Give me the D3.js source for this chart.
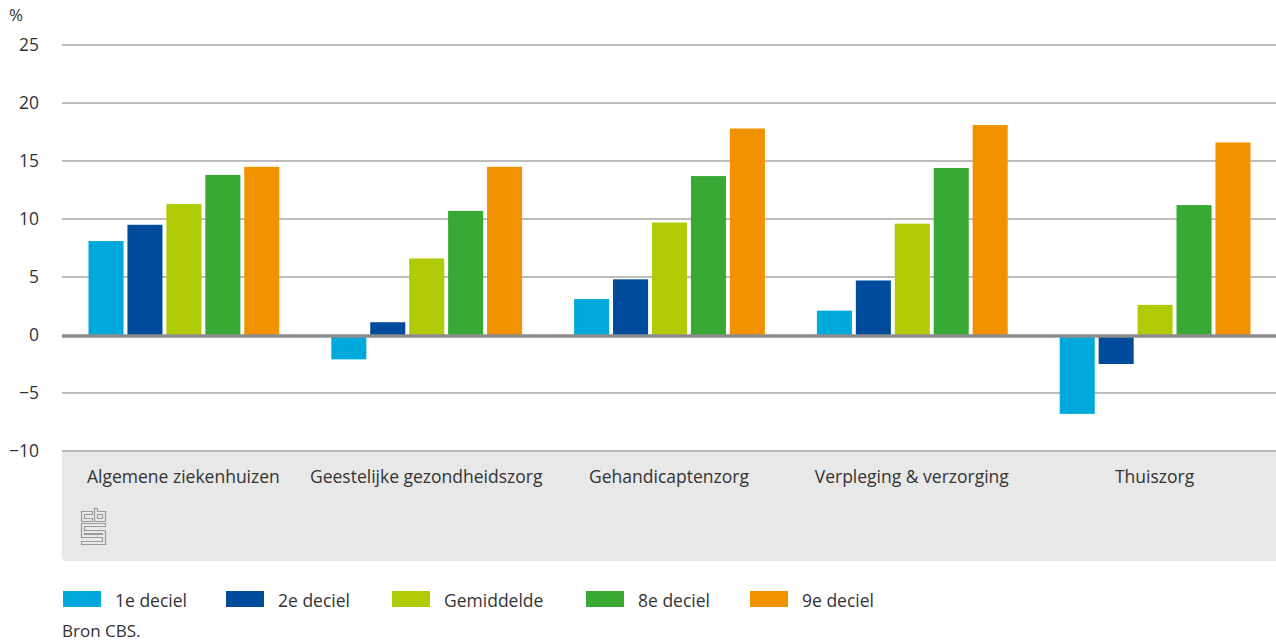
<!DOCTYPE html>
<html><head><meta charset="utf-8">
<script src="https://cdn.jsdelivr.net/npm/d3@7/dist/d3.min.js"></script>
<style>
body{margin:0;background:#fff;}
text{font-family:"Open Sans","Noto Sans",sans-serif;fill:#333;}
</style></head>
<body><svg id="c" width="1276" height="643"></svg>
<script>
const categories = ["Algemene ziekenhuizen","Geestelijke gezondheidszorg","Gehandicaptenzorg","Verpleging & verzorging","Thuiszorg"];
const seriesNames = ["1e deciel","2e deciel","Gemiddelde","8e deciel","9e deciel"];
const seriesColors = ["#00a9db","#004b9b","#afcb05","#38a935","#f39200"];
const deciel1 = [8.1,-2.1,3.1,2.1,-6.8];
const deciel2 = [9.5,1.1,4.8,4.7,-2.5];
const gemiddelde = [11.3,6.6,9.7,9.6,2.6];
const deciel8 = [13.8,10.7,13.7,14.4,11.2];
const deciel9 = [14.5,14.5,17.8,18.1,16.6];
const yTicks = [-10,-5,0,5,10,15,20,25];
const seriesValues = [deciel1,deciel2,gemiddelde,deciel8,deciel9];

const svg = d3.select("#c");
const left = 62, right = 1276;
const y = d3.scaleLinear().domain([-10,25]).range([451,45]);
const x0 = d3.scaleBand().domain(categories).range([left,right]).paddingInner(0).paddingOuter(0);
const x1 = d3.scaleBand().domain(seriesNames).range([26.5, x0.bandwidth()-25.5]).paddingInner(0.1).paddingOuter(0);

// category band
svg.append("path")
  .attr("d", () => {
    const t = y(-10), b = 561, r = 5;
    return `M${left},${t}H${right}V${b}H${left+r}Q${left},${b} ${left},${b-r}Z`;
  })
  .attr("fill","#e8e8e8");

// gridlines
svg.append("g").selectAll("line").data(yTicks.filter(d=>d!==0)).join("line")
  .attr("x1",left).attr("x2",right)
  .attr("y1",d=>y(d)).attr("y2",d=>y(d))
  .attr("stroke","#a6a6a6").attr("stroke-width",1.5);

// y axis labels
const yAxis = d3.axisLeft(y).tickValues(yTicks).tickSize(0).tickPadding(0)
  .tickFormat(d => d<0 ? "\u2212"+Math.abs(d) : d);
const ga = svg.append("g").attr("transform","translate(39,0)").call(yAxis);
ga.select(".domain").remove();
ga.selectAll("text").style("font-size","17.5px").attr("fill","#333").attr("font-family",null);
svg.append("text").attr("x",9).attr("y",21).style("font-size","17px").text("%");

// bars
const groups = svg.append("g").selectAll("g").data(categories).join("g")
  .attr("transform",d=>`translate(${x0(d)},0)`);
groups.selectAll("rect").data((c,i)=>seriesNames.map((s,j)=>({s, v:seriesValues[j][i], col:seriesColors[j]}))).join("rect")
  .attr("x",d=>x1(d.s)).attr("width",x1.bandwidth())
  .attr("y",d=>d.v>=0 ? y(d.v) : y(0))
  .attr("height",d=>Math.abs(y(d.v)-y(0)))
  .attr("fill",d=>d.col);

// zero line
svg.append("line").attr("x1",left).attr("x2",right)
  .attr("y1",y(0)+1).attr("y2",y(0)+1)
  .attr("stroke","#8c8c8c").attr("stroke-width",3.5);

// category labels
svg.append("g").selectAll("text").data(categories).join("text")
  .attr("x",d=>x0(d)+x0.bandwidth()/2).attr("y",483)
  .attr("text-anchor","middle").style("font-size","17.5px").text(d=>d);

// CBS logo (outline)
const logo = svg.append("g").attr("transform","translate(81,508)")
  .attr("fill","none").attr("stroke","#9a9a9a").attr("stroke-width",1.2);
logo.append("path").attr("d","M0.5,3.5H11.5V6.5H3.5V10.5H11.5V13.5H0.5Z");
logo.append("path").attr("d","M13.5,0.5H16.5V3.5H24.5V13.5H13.5Z M16.5,6.5V10.5H21.5V6.5Z");
logo.append("path").attr("d","M0.5,15.5H24.5V18.5H3.5V22.5H24.5V36.5H0.5V33.5H21.5V29.5H0.5Z M3.5,25.5H21.5V26.5H3.5Z");

// legend (layout positions)
const legendX = [63,226,392,586,750];
const lg = svg.append("g").selectAll("g").data(seriesNames).join("g")
  .attr("transform",(d,i)=>`translate(${legendX[i]},0)`);
lg.append("rect").attr("x",0).attr("y",591).attr("width",38).attr("height",16).attr("fill",(d,i)=>seriesColors[i]);
lg.append("text").attr("x",52).attr("y",607).style("font-size","17.5px").text(d=>d);
svg.append("text").attr("x",62).attr("y",637).style("font-size","17px").text("Bron CBS.");
</script></body></html>
